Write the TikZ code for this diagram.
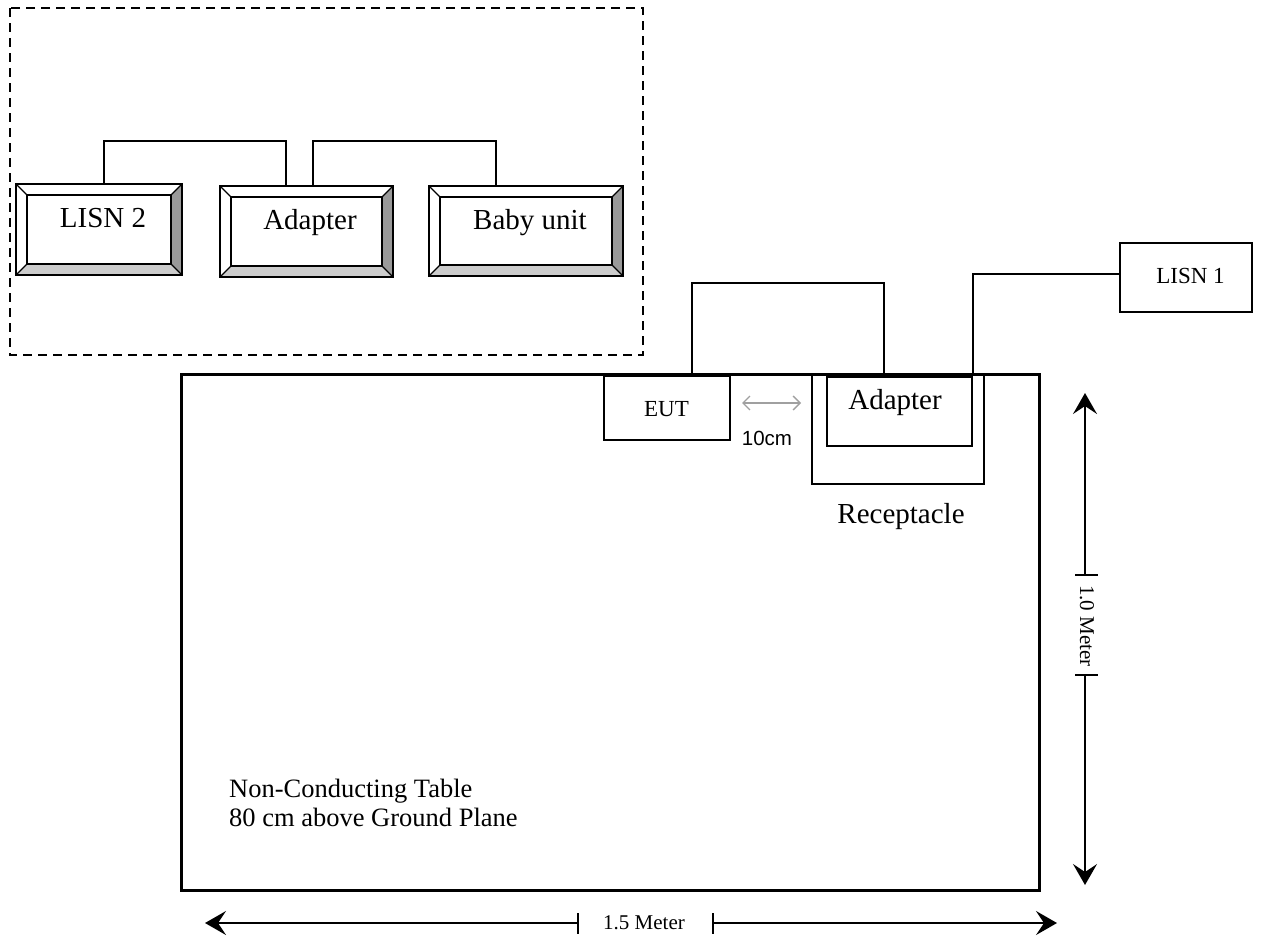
\documentclass[tikz,border=0pt]{standalone}
\usepackage{fontspec}
\setmainfont{Liberation Serif}
\newfontfamily\arialf{Liberation Sans}
\usetikzlibrary{calc,arrows.meta}
\definecolor{bevdark}{HTML}{999999}
\definecolor{bevlight}{HTML}{CCCCCC}
\definecolor{dimgray}{HTML}{A0A0A0}
\tikzset{
  bevbox/.style={draw, line width=1.5pt, rectangle, inner sep=0pt, outer sep=0pt},
  plainbox/.style={draw, line width=1.3pt, rectangle, inner sep=0pt, outer sep=0pt},
  lbl/.style={inner sep=0pt, outer sep=0pt, anchor=base},
  wire/.style={line width=1.3pt},
  dim/.style={line width=1.5pt},
  bigtip/.style={-{Stealth[length=21pt,width=24pt,inset=8pt]}},
}
\newcommand\bevel[1]{%
  \fill[bevdark] (#1.north east) -- (#1.south east) -- ($(#1.south east)+(-11,-11)$) -- ($(#1.north east)+(-11,11)$) -- cycle;
  \fill[bevlight] (#1.south west) -- (#1.south east) -- ($(#1.south east)+(-11,-11)$) -- ($(#1.south west)+(11,-11)$) -- cycle;
  \draw[line width=1.2pt] ($(#1.north west)+(11,11)$) rectangle ($(#1.south east)+(-11,-11)$);
  \draw[line width=1.2pt] (#1.north west) -- ($(#1.north west)+(11,11)$)
     (#1.north east) -- ($(#1.north east)+(-11,11)$)
     (#1.south east) -- ($(#1.south east)+(-11,-11)$)
     (#1.south west) -- ($(#1.south west)+(11,-11)$);
  \draw[line width=1.5pt] (#1.north west) rectangle (#1.south east);
}
\begin{document}
\begin{tikzpicture}[x=1pt,y=-1pt]
\useasboundingbox (0,0) rectangle (1265,938);
\fill[white] (0,0) rectangle (1265,938);

% dashed enclosure
\draw[line width=2pt, dash pattern=on 9pt off 6pt] (10,8) rectangle (643,355);

% bevelled boxes
\node[bevbox, minimum width=166pt, minimum height=91pt] (lisn2) at (99,229.5) {};
\node[bevbox, minimum width=173pt, minimum height=91pt] (adapA) at (306.5,231.5) {};
\node[bevbox, minimum width=194pt, minimum height=90pt] (baby) at (526,231) {};
\bevel{lisn2}\bevel{adapA}\bevel{baby}
\node[lbl, font=\fontsize{29}{34}\selectfont] (lisn2t) at (103,227) {LISN 2};
\node[lbl, font=\fontsize{29}{34}\selectfont] (adapAt) at (310,229) {Adapter};
\node[lbl, font=\fontsize{29}{34}\selectfont] (babyt) at (530,229) {Baby unit};

% wires in enclosure
\coordinate (w1a) at (104,141); \coordinate (w1b) at (286,141);
\draw[wire] (lisn2.north -| w1a) -- (w1a) -- (w1b) -- (adapA.north -| w1b);
\coordinate (w2a) at (313,141); \coordinate (w2b) at (496,141);
\draw[wire] (adapA.north -| w2a) -- (w2a) -- (w2b) -- (baby.north -| w2b);

% table
\node[draw, line width=3pt, rectangle, inner sep=0pt, outer sep=0pt, minimum width=858pt, minimum height=516pt] (table) at (610,632) {};

% EUT, receptacle, adapter
\node[plainbox, minimum width=126pt, minimum height=64pt] (eut) at (667,408) {};
\node[lbl, font=\fontsize{23}{28}\selectfont] (eutt) at (666.5,416) {EUT};
\node[plainbox, line width=1.5pt, minimum width=172pt, minimum height=110pt] (recep) at (898,429) {};
\node[plainbox, minimum width=145pt, minimum height=69pt] (adapB) at (899.5,411.5) {};
\node[lbl, font=\fontsize{29}{34}\selectfont] (adapBt) at (895,409) {Adapter};
\node[lbl, font=\fontsize{29}{34}\selectfont] (recept) at (901,523) {Receptacle};

% LISN 1
\node[plainbox, minimum width=132pt, minimum height=69pt] (lisn1) at (1186,277.5) {};
\node[lbl, font=\fontsize{23}{28}\selectfont] (lisn1t) at (1190.5,283) {LISN 1};

% wires near table
\coordinate (w3a) at (692,283); \coordinate (w3b) at (884,283);
\draw[wire] (eut.north -| w3a) -- (w3a) -- (w3b) -- (recep.north -| w3b);
\coordinate (w4a) at (973,274);
\draw[wire] (recep.north -| w4a) -- (w4a) -- (lisn1.west |- w4a);

% 10cm gap
\coordinate (g1) at (742,403); \coordinate (g2) at (801,403);
\draw[dimgray, line width=1.3pt, {Straight Barb[length=7pt,width=14pt]}-{Straight Barb[length=7pt,width=14pt]}] (g1) -- (g2);
\node[lbl, font=\arialf\fontsize{20.5}{24}\selectfont] (gapt) at (767,445) {10cm};

% table label
\node[inner sep=0pt, anchor=base west, font=\fontsize{26.5}{29}\selectfont] (tablet) at (229,797) {Non-Conducting Table};
\node[inner sep=0pt, anchor=base west, font=\fontsize{26.5}{29}\selectfont] (tablet2) at (229,826) {80 cm above Ground Plane};

% vertical dimension
\coordinate (vtop) at (1085,393); \coordinate (vt1) at (1085,575);
\coordinate (vt2) at (1085,675); \coordinate (vbot) at (1085,885);
\draw[dim, bigtip] (vt1) -- (vtop);
\draw[dim, bigtip] (vt2) -- (vbot);
\draw[dim] ($(vt1)+(-10,0)$) -- ($(vt1)+(13,0)$);
\draw[dim] ($(vt2)+(-10,0)$) -- ($(vt2)+(13,0)$);
\node[rotate=-90, inner sep=0pt, font=\fontsize{21}{25}\selectfont] (vlab) at (1087,626) {1.0 Meter};

% horizontal dimension
\coordinate (hl) at (205,923); \coordinate (ht1) at (578,923);
\coordinate (ht2) at (713,923); \coordinate (hr) at (1057,923);
\draw[dim, bigtip] (ht1) -- (hl);
\draw[dim, bigtip] (ht2) -- (hr);
\draw[dim] ($(ht1)+(0,-10)$) -- ($(ht1)+(0,11)$);
\draw[dim] ($(ht2)+(0,-10)$) -- ($(ht2)+(0,11)$);
\node[lbl, font=\fontsize{21}{25}\selectfont] (hlab) at (644,929) {1.5 Meter};
\end{tikzpicture}
\end{document}
